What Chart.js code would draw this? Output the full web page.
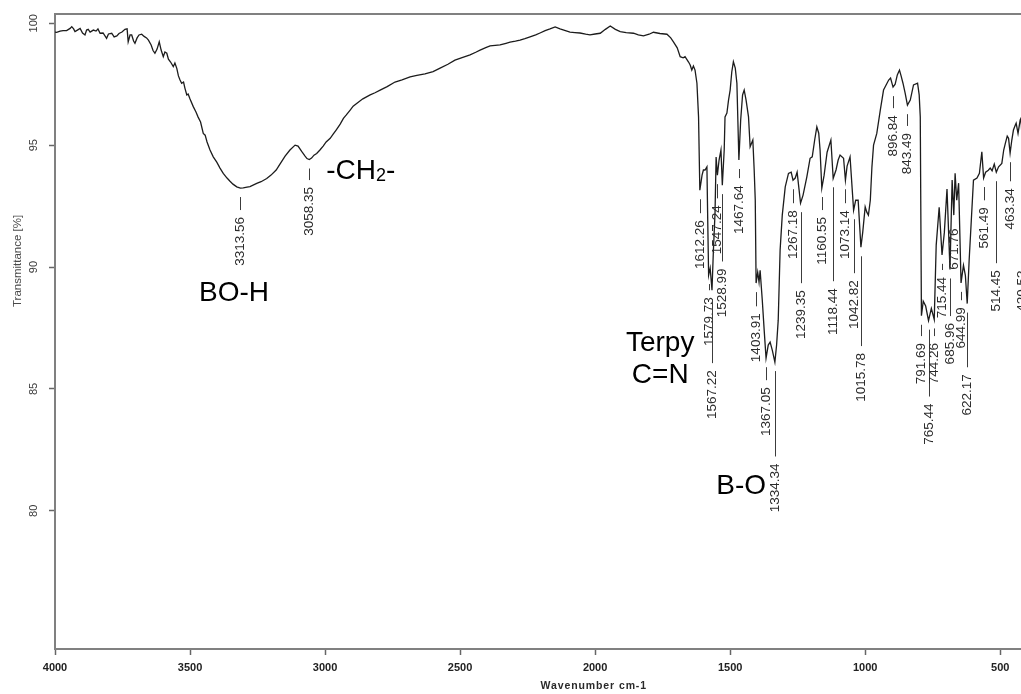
<!DOCTYPE html>
<html>
<head>
<meta charset="utf-8">
<script src="https://cdn.jsdelivr.net/npm/chart.js@4.4.0/dist/chart.umd.min.js"></script>
<style>
  html, body { margin: 0; padding: 0; background: #ffffff; }
  #wrap { width: 1021px; height: 694px; position: relative; }
</style>
</head>
<body>
<div id="wrap"><canvas id="ir" width="1021" height="694"></canvas></div>
<script>
// IR spectrum: wavenumber (cm-1) and transmittance (%)
const wavenumbers = [
  4000, 3994, 3981, 3970, 3957, 3944, 3938, 3931, 3926, 3917, 3907, 3898, 3889, 3883, 3877, 3870,
  3858, 3848, 3841, 3833, 3822, 3809, 3802, 3790, 3781, 3771, 3763, 3752, 3741, 3733, 3729, 3722,
  3716, 3709, 3704, 3696, 3689, 3679, 3670, 3661, 3654, 3644, 3637, 3630, 3622, 3614, 3607, 3599,
  3593, 3586, 3580, 3572, 3562, 3556, 3549, 3543, 3537, 3531, 3524, 3519, 3512, 3507, 3500, 3488,
  3478, 3470, 3461, 3451, 3444, 3437, 3426, 3414, 3401, 3389, 3377, 3363, 3352, 3341, 3327, 3313.56,
  3303, 3289, 3278, 3253, 3237, 3216, 3200, 3181, 3167, 3148, 3130, 3111, 3100, 3086, 3074, 3067,
  3058.35, 3050, 3041, 3031, 3019, 3007, 2996, 2981, 2970, 2959, 2944, 2932, 2922, 2907, 2896, 2883,
  2860, 2833, 2815, 2796, 2770, 2741, 2715, 2685, 2660, 2630, 2600, 2574, 2545, 2519, 2490, 2463,
  2440, 2426, 2405, 2389, 2370, 2352, 2330, 2315, 2295, 2278, 2260, 2241, 2220, 2204, 2185, 2167,
  2148, 2130, 2110, 2093, 2075, 2056, 2035, 2019, 2000, 1981, 1962, 1944, 1925, 1907, 1885, 1858,
  1840, 1821, 1800, 1784, 1760, 1734, 1720, 1710, 1696, 1685, 1674, 1667, 1654, 1648, 1642, 1636,
  1630, 1623, 1617, 1612.26, 1604, 1599, 1593, 1586, 1583, 1579.73, 1574, 1567.22, 1562, 1556, 1552, 1547.24,
  1541, 1534, 1528.99, 1522, 1519, 1512, 1506, 1500, 1494, 1488, 1481, 1475, 1467.64, 1461, 1454, 1448,
  1441, 1432, 1426, 1416, 1411, 1407, 1403.91, 1398, 1393, 1389, 1381, 1374, 1367.05, 1359, 1352, 1344,
  1334.34, 1328, 1322, 1315, 1307, 1296, 1284, 1274, 1267.18, 1259, 1252, 1239.35, 1230, 1216, 1204, 1196,
  1187, 1179, 1172, 1167, 1160.55, 1152, 1141, 1127, 1118.44, 1108, 1100, 1093, 1080, 1073.14, 1067, 1056,
  1042.82, 1035, 1026, 1015.78, 1009, 1000, 994, 988, 981, 975, 969, 957, 944, 932, 913, 906,
  896.84, 889, 881, 873, 867, 860, 852, 843.49, 833, 821, 806, 800, 796, 791.69, 785, 776,
  765.44, 755, 744.26, 737, 726, 715.44, 707, 697, 685.96, 678, 671.76, 667, 661, 654, 644.99, 636,
  629, 622.17, 615, 607, 599, 586, 577, 568, 561.49, 554, 544, 537, 530, 522, 514.45, 506,
  494, 487, 481, 474, 469, 463.34, 457, 451, 444, 441, 434, 426, 423, 420.53
];
const transmittance = [
  99.64, 99.63, 99.68, 99.70, 99.70, 99.79, 99.86, 99.77, 99.66, 99.72, 99.79, 99.60, 99.52, 99.72, 99.75, 99.64,
  99.72, 99.68, 99.77, 99.59, 99.60, 99.38, 99.56, 99.59, 99.44, 99.48, 99.58, 99.64, 99.75, 99.77, 99.24, 99.52,
  99.52, 99.27, 99.18, 99.40, 99.52, 99.55, 99.46, 99.40, 99.31, 99.11, 98.88, 98.77, 98.94, 99.24, 98.90, 98.63,
  98.82, 98.77, 98.53, 98.41, 98.22, 98.37, 98.15, 97.84, 97.67, 97.54, 97.59, 97.34, 97.06, 97.10, 96.89, 96.58,
  96.36, 96.15, 95.95, 95.48, 95.41, 95.13, 94.80, 94.52, 94.30, 94.06, 93.84, 93.65, 93.52, 93.40, 93.29, 93.24,
  93.25, 93.28, 93.30, 93.43, 93.50, 93.63, 93.77, 93.98, 94.22, 94.55, 94.80, 95.00, 94.96, 94.73, 94.55, 94.45,
  94.41, 94.47, 94.59, 94.66, 94.80, 94.96, 95.13, 95.28, 95.45, 95.62, 95.86, 96.10, 96.23, 96.44, 96.60, 96.71,
  96.90, 97.06, 97.15, 97.26, 97.40, 97.59, 97.68, 97.80, 97.86, 97.92, 98.02, 98.16, 98.32, 98.49, 98.60, 98.70,
  98.82, 98.90, 99.00, 99.07, 99.09, 99.11, 99.18, 99.23, 99.27, 99.31, 99.37, 99.44, 99.52, 99.60, 99.70, 99.77,
  99.85, 99.77, 99.70, 99.64, 99.62, 99.60, 99.55, 99.52, 99.56, 99.59, 99.75, 99.89, 99.75, 99.66, 99.62, 99.59,
  99.52, 99.48, 99.55, 99.63, 99.58, 99.55, 99.40, 99.24, 98.99, 98.63, 98.58, 98.63, 98.41, 98.29, 98.08, 98.25,
  98.08, 97.54, 96.16, 93.15, 93.77, 93.98, 93.98, 94.11, 91.92, 89.67, 89.96, 89.05, 90.69, 92.21, 94.51, 93.77,
  94.39, 94.80, 93.36, 94.80, 96.16, 96.32, 96.85, 97.26, 98.00, 98.42, 98.16, 97.54, 94.39, 96.03, 97.06, 97.26,
  96.85, 96.16, 94.93, 95.21, 93.98, 92.74, 89.34, 89.79, 89.38, 89.87, 88.64, 87.41, 86.26, 86.80, 86.92, 86.59,
  86.10, 86.80, 87.82, 90.69, 92.13, 93.29, 93.84, 93.89, 93.56, 93.65, 93.89, 92.62, 92.95, 93.70, 94.46, 94.52,
  95.21, 95.75, 95.49, 94.80, 93.24, 93.77, 94.71, 95.21, 93.64, 93.98, 94.39, 94.59, 94.46, 93.56, 94.14, 94.52,
  92.33, 92.74, 92.74, 90.81, 91.43, 92.47, 92.25, 92.13, 92.74, 94.11, 95.00, 95.48, 96.44, 97.26, 97.67, 97.75,
  97.38, 97.50, 97.88, 98.08, 97.84, 97.54, 97.13, 96.64, 96.85, 97.47, 97.54, 97.06, 96.16, 88.00, 88.60, 88.40,
  87.80, 88.30, 87.85, 90.90, 92.45, 90.50, 91.40, 93.20, 89.90, 93.57, 92.13, 93.85, 92.74, 93.44, 89.35, 90.07,
  89.66, 88.50, 90.28, 91.92, 93.56, 93.65, 93.84, 94.73, 93.65, 93.89, 93.97, 94.06, 93.95, 94.22, 93.89, 94.11,
  94.25, 94.80, 95.07, 95.37, 95.28, 94.67, 95.21, 95.62, 95.83, 95.90, 95.48, 96.03, 96.10, 95.60
];

// axis ticks
const xTickValues = [500, 1000, 1500, 2000, 2500, 3000, 3500, 4000];
const yTickValues = [80, 85, 90, 95, 100];

// picked band positions
const peakWavenumbers = [
  3313.56, 3058.35, 1612.26, 1579.73, 1567.22, 1547.24, 1528.99, 1467.64, 1403.91, 1367.05, 1334.34,
  1267.18, 1239.35, 1160.55, 1118.44, 1073.14, 1042.82, 1015.78, 896.84, 843.49, 791.69, 765.44,
  744.26, 715.44, 685.96, 671.76, 644.99, 622.17, 561.49, 514.45, 463.34, 420.53
];
// transmittance level where each peak label's text begins (label stagger)
const peakLabelDrop = [
  92.05, 93.28, 91.92, 88.76, 85.77, 92.53, 89.94, 93.36, 88.10, 85.07, 81.94,
  92.33, 89.05, 92.05, 89.13, 92.33, 89.46, 86.47, 96.23, 95.50, 86.88, 84.40,
  86.88, 89.59, 87.70, 91.58, 88.35, 85.60, 92.45, 89.87, 93.23, 89.86
];

// band assignments written on the plot (wavenumber, transmittance of text baseline)
const bandNotes = [
  { text: 'BO-H',  wn: 3337, t: 88.60, align: 'center' },
  { text: '-CH',   wn: 2996, t: 93.61, align: 'left', sub: '2', tail: '-' },
  { text: 'Terpy', wn: 1759, t: 86.55, align: 'center' },
  { text: 'C=N',   wn: 1759, t: 85.23, align: 'center' },
  { text: 'B-O',   wn: 1459, t: 80.68, align: 'center' }
];

const FONT = '"Liberation Sans", Arial, sans-serif';
const X_MIN = 423, X_MAX = 4000, Y_MIN = 74.33, Y_MAX = 100.38;

const annotate = {
  id: 'annotate',
  afterDraw(chart) {
    const { ctx, chartArea: a } = chart;
    const xs = chart.scales.x, ys = chart.scales.y;
    ctx.save();

    // top frame line
    ctx.strokeStyle = '#808080';
    ctx.lineWidth = 2;
    ctx.beginPath();
    ctx.moveTo(a.left, a.top);
    ctx.lineTo(a.right, a.top);
    ctx.stroke();

    // vertical y tick labels
    ctx.fillStyle = '#3a3a3a';
    ctx.font = '11px ' + FONT;
    ctx.textAlign = 'center';
    ctx.textBaseline = 'middle';
    yTickValues.forEach(v => {
      const y = ys.getPixelForValue(v);
      ctx.save();
      ctx.translate(a.left - 21, y);
      ctx.rotate(-Math.PI / 2);
      ctx.fillText(String(v), 0, 0);
      ctx.restore();
    });

    // y axis title
    ctx.save();
    ctx.fillStyle = '#4a4a4a';
    ctx.font = '11.5px ' + FONT;
    ctx.translate(18, ys.getPixelForValue(90.25));
    ctx.rotate(-Math.PI / 2);
    ctx.fillText('Transmittance [%]', 0, 0);
    ctx.restore();

    // x axis title
    ctx.save();
    ctx.fillStyle = '#2a2a2a';
    ctx.font = 'bold 10.5px ' + FONT;
    if ('letterSpacing' in ctx) ctx.letterSpacing = '0.9px';
    ctx.textAlign = 'center';
    ctx.fillText('Wavenumber cm-1', xs.getPixelForValue(2005), a.bottom + 37);
    ctx.restore();

    // peak labels with leader lines
    ctx.font = '13.5px ' + FONT;
    ctx.fillStyle = '#2b2b2b';
    ctx.strokeStyle = '#3c3c3c';
    ctx.lineWidth = 1;
    peakWavenumbers.forEach((wn, i) => {
      const idx = wavenumbers.indexOf(wn);
      const px = Math.round(xs.getPixelForValue(wn)) + 0.5;
      const pyCurve = ys.getPixelForValue(transmittance[idx]);
      const pyText = ys.getPixelForValue(peakLabelDrop[i]);
      const y0 = pyCurve + 9, y1 = pyText - 7;
      if (y1 - y0 > 2) {
        ctx.beginPath();
        ctx.moveTo(px, y0);
        ctx.lineTo(px, y1);
        ctx.stroke();
      }
      ctx.save();
      ctx.translate(px, pyText);
      ctx.rotate(-Math.PI / 2);
      ctx.textAlign = 'right';
      ctx.textBaseline = 'middle';
      ctx.fillText(wn.toFixed(2), 0, 0);
      ctx.restore();
    });

    // band assignments
    ctx.fillStyle = '#000000';
    ctx.textBaseline = 'alphabetic';
    bandNotes.forEach(n => {
      const x = xs.getPixelForValue(n.wn), y = ys.getPixelForValue(n.t);
      ctx.font = '28px ' + FONT;
      ctx.textAlign = n.align;
      ctx.fillText(n.text, x, y);
      if (n.sub) {
        const w = ctx.measureText(n.text).width;
        ctx.font = '18px ' + FONT;
        ctx.textAlign = 'left';
        ctx.fillText(n.sub, x + w, y + 2);
        const ws = ctx.measureText(n.sub).width;
        ctx.font = '28px ' + FONT;
        ctx.fillText(n.tail, x + w + ws, y);
      }
    });
    ctx.restore();
  }
};

const points = wavenumbers.map((w, i) => ({ x: w, y: transmittance[i] }));

new Chart(document.getElementById('ir'), {
  type: 'scatter',
  data: {
    datasets: [{
      data: points,
      showLine: true,
      borderColor: '#1c1c1c',
      borderWidth: 1.3,
      pointRadius: 0,
      tension: 0
    }]
  },
  options: {
    responsive: false,
    animation: false,
    devicePixelRatio: 1,
    layout: { padding: { top: 14, right: 0, left: 0, bottom: 0 } },
    plugins: { legend: { display: false }, tooltip: { enabled: false } },
    scales: {
      x: {
        type: 'linear',
        reverse: true,
        min: X_MIN,
        max: X_MAX,
        afterBuildTicks: s => { s.ticks = xTickValues.map(v => ({ value: v })); },
        afterFit: s => { s.height = 45; },
        grid: { drawOnChartArea: false, drawTicks: true, tickLength: 6, tickColor: '#666', tickWidth: 1.5 },
        border: { display: true, color: '#808080', width: 2 },
        ticks: {
          color: '#222',
          font: { family: FONT, size: 11, weight: 'bold' },
          padding: 6,
          maxRotation: 0,
          autoSkip: false,
          callback: v => String(v)
        }
      },
      y: {
        min: Y_MIN,
        max: Y_MAX,
        afterBuildTicks: s => { s.ticks = yTickValues.map(v => ({ value: v })); },
        afterFit: s => { s.width = 55; },
        grid: { drawOnChartArea: false, drawTicks: true, tickLength: 6, tickColor: '#666', tickWidth: 1.5 },
        border: { display: true, color: '#808080', width: 2 },
        ticks: { color: 'rgba(0,0,0,0)', font: { family: FONT, size: 11 } }
      }
    }
  },
  plugins: [annotate]
});
</script>
</body>
</html>
